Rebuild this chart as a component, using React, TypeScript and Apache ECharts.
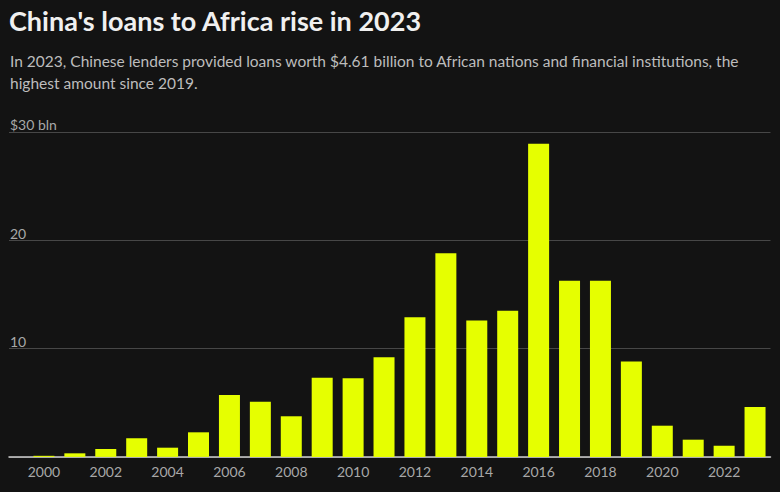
import React, { useEffect, useRef } from "react";
import * as echarts from "echarts";

const years = [2000, 2001, 2002, 2003, 2004, 2005, 2006, 2007, 2008, 2009, 2010, 2011, 2012, 2013, 2014, 2015, 2016, 2017, 2018, 2019, 2020, 2021, 2022, 2023];
const loans = [0.1, 0.33, 0.73, 1.72, 0.85, 2.27, 5.71, 5.1, 3.75, 7.3, 7.25, 9.2, 12.9, 18.8, 12.6, 13.5, 28.9, 16.25, 16.25, 8.8, 2.88, 1.59, 1.03, 4.61];
const xTickLabels = [2000, 2002, 2004, 2006, 2008, 2010, 2012, 2014, 2016, 2018, 2020, 2022];

const title = "China's loans to Africa rise in 2023";
const subtitle = "In 2023, Chinese lenders provided loans worth $4.61 billion to African nations and financial institutions, the\nhighest amount since 2019.";

const FONT = "Lato";

export default function App() {
  const ref = useRef<HTMLDivElement>(null);
  useEffect(() => {
    if (!ref.current) return;
    const chart = echarts.init(ref.current, null, { renderer: "svg" });
    chart.setOption({
      animation: false,
      backgroundColor: "#131313",
      title: [
        {
          text: title,
          left: 4,
          top: 2,
          textStyle: { color: "#f0f0f0", fontSize: 27, fontWeight: "bold", fontFamily: FONT },
        },
        {
          text: subtitle,
          left: 5,
          top: 45,
          textStyle: { color: "#bdbdbd", fontSize: 15.5, fontWeight: "normal", fontFamily: FONT, lineHeight: 22 },
        },
      ],
      grid: { left: 9, right: 9.5, top: 131.9, bottom: 35.1, containLabel: false },
      xAxis: {
        type: "value",
        min: 1998.87,
        max: 2023.5,
        splitLine: { show: false },
        axisLine: { show: true, lineStyle: { color: "#cfcfcf", width: 1.5 } },
        axisTick: { show: false },
        axisLabel: {
          customValues: xTickLabels,
          color: "#a8a8a8",
          fontSize: 14,
          fontFamily: FONT,
          margin: 8,
          formatter: (v: number) => String(v),
        },
      },
      yAxis: {
        type: "value",
        min: 0,
        max: 30,
        interval: 10,
        axisLine: { show: false },
        axisTick: { show: false },
        splitLine: { show: true, lineStyle: { color: "#474747", width: 1 } },
        axisLabel: {
          inside: true,
          verticalAlign: "bottom",
          margin: 1,
          color: "#a8a8a8",
          fontSize: 14,
          fontFamily: FONT,
          formatter: (v: number) => (v === 0 ? "" : v === 30 ? "$30 bln" : String(v)),
        },
      },
      series: [
        {
          type: "bar",
          barWidth: 21,
          itemStyle: { color: "#e6ff00" },
          data: years.map((y, i) => [y, loans[i]]),
          z: 1,
        },
      ],
    });
    return () => chart.dispose();
  }, []);
  return <div ref={ref} style={{ width: 780, height: 492, position: "absolute", left: 0, top: 0 }} />;
}
